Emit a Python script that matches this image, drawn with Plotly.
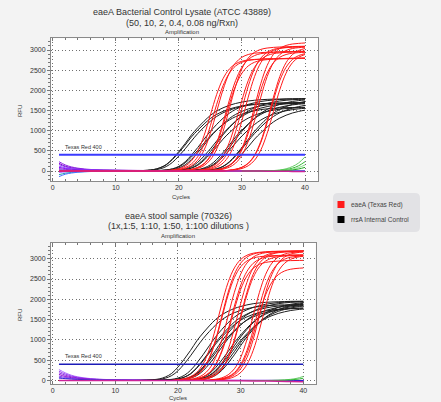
import plotly.graph_objects as go

W, H = 441, 402

# ---------------- data ----------------
x_ticks = [0, 10, 20, 30, 40]
y_ticks = [0, 500, 1000, 1500, 2000, 2500, 3000]
threshold = 400
threshold_label = "Texas Red 400"

top_title = ["eaeA Bacterial Control Lysate (ATCC 43889)", "(50, 10, 2, 0.4, 0.08 ng/Rxn)"]
bot_title = ["eaeA stool sample (70326)", "(1x,1:5, 1:10, 1:50, 1:100 dilutions )"]
legend_labels = ["eaeA (Texas Red)", "rrsA Internal Control"]

# cycles at which the baseline (purple) traces were read
cycles_sparse = [1, 2, 3, 4, 5, 6, 7, 8, 10, 12, 15, 20, 25, 30, 35, 40]
green_cycles = [30, 34, 35, 36, 37, 38, 39, 40]
tail_cycles = [1, 10, 20, 25, 30, 33, 36, 38, 40]

# amplification curves: first cycle of listed values (earlier cycles are baseline 0)
top_red_starts = [18, 19, 19, 21, 21, 21, 23, 23, 24, 25, 26, 25, 28, 28, 28]
top_red_values = [
    [13, 27, 58, 122, 252, 492, 881, 1390, 1899, 2288, 2528, 2658, 2722, 2752, 2766, 2774, 2780, 2784, 2788, 2791, 2795, 2798, 2800],
    [19, 40, 85, 176, 356, 667, 1126, 1654, 2113, 2424, 2605, 2697, 2741, 2761, 2772, 2780, 2784, 2787, 2790, 2793, 2796, 2799],
    [14, 29, 62, 130, 267, 522, 935, 1475, 2015, 2428, 2683, 2820, 2888, 2921, 2935, 2944, 2950, 2955, 2959, 2963, 2966, 2970],
    [20, 42, 90, 187, 378, 708, 1195, 1755, 2242, 2572, 2764, 2862, 2909, 2929, 2941, 2950, 2954, 2958, 2962, 2965],
    [14, 30, 64, 136, 279, 545, 976, 1540, 2104, 2535, 2801, 2944, 3015, 3049, 3065, 3074, 3080, 3085, 3090, 3094],
    [19, 40, 85, 176, 356, 667, 1126, 1654, 2113, 2424, 2605, 2697, 2741, 2761, 2772, 2780, 2783, 2786, 2789, 2792],
    [14, 30, 64, 136, 279, 545, 976, 1540, 2104, 2535, 2801, 2944, 3015, 3049, 3065, 3074, 3080, 3084],
    [20, 42, 90, 187, 378, 708, 1195, 1755, 2242, 2572, 2764, 2862, 2909, 2929, 2941, 2950, 2954, 2958],
    [21, 44, 94, 195, 394, 739, 1247, 1833, 2341, 2686, 2886, 2988, 3037, 3058, 3071, 3080, 3084],
    [14, 29, 62, 130, 267, 522, 935, 1475, 2015, 2428, 2683, 2820, 2888, 2921, 2935, 2944],
    [21, 44, 94, 195, 394, 739, 1247, 1833, 2341, 2686, 2886, 2988, 3037, 3058, 3071],
    [15, 31, 66, 140, 288, 563, 1008, 1590, 2172, 2617, 2892, 3040, 3113, 3148, 3164, 3174],
    [21, 44, 94, 195, 394, 739, 1247, 1833, 2341, 2686, 2886, 2988, 3037],
    [14, 29, 62, 130, 267, 522, 935, 1475, 2015, 2428, 2683, 2820, 2888],
    [20, 42, 90, 187, 378, 708, 1195, 1755, 2242, 2572, 2764, 2862, 2909],
]

top_black_starts = [13, 14, 13, 16, 16, 16, 18, 18, 18, 20, 21, 21, 23, 23, 23]
top_black_values = [
    [4, 9, 18, 36, 81, 161, 304, 483, 680, 895, 1074, 1235, 1378, 1486, 1566, 1629, 1674, 1709, 1736, 1754, 1767, 1776, 1781, 1785, 1790, 1792, 1794, 1796],
    [5, 12, 25, 52, 110, 216, 372, 549, 744, 930, 1090, 1234, 1352, 1442, 1509, 1560, 1597, 1627, 1648, 1663, 1673, 1680, 1683, 1687, 1690, 1692, 1694],
    [3, 8, 17, 34, 76, 152, 287, 456, 642, 845, 1014, 1166, 1301, 1403, 1479, 1538, 1580, 1614, 1639, 1656, 1668, 1676, 1682, 1685, 1690, 1692, 1694, 1696],
    [5, 11, 24, 49, 103, 202, 348, 514, 695, 869, 1019, 1153, 1264, 1348, 1411, 1458, 1493, 1522, 1541, 1555, 1564, 1571, 1574, 1577, 1580],
    [5, 13, 27, 55, 116, 229, 394, 582, 788, 985, 1155, 1307, 1432, 1527, 1598, 1652, 1692, 1724, 1745, 1761, 1772, 1779, 1783, 1786, 1790],
    [3, 8, 17, 34, 76, 152, 287, 456, 642, 845, 1014, 1166, 1301, 1403, 1479, 1538, 1580, 1614, 1639, 1656, 1668, 1676, 1682, 1685, 1690],
    [4, 9, 18, 36, 81, 161, 304, 483, 680, 895, 1074, 1235, 1378, 1486, 1566, 1629, 1674, 1709, 1736, 1754, 1767, 1776, 1781],
    [5, 12, 25, 52, 110, 216, 372, 549, 744, 930, 1090, 1234, 1352, 1442, 1509, 1560, 1597, 1627, 1648, 1663, 1673, 1680, 1683],
    [3, 8, 16, 32, 71, 142, 269, 427, 600, 790, 948, 1090, 1217, 1311, 1383, 1438, 1477, 1509, 1533, 1548, 1559, 1567, 1572],
    [3, 8, 17, 34, 76, 152, 287, 456, 642, 845, 1014, 1166, 1301, 1403, 1479, 1538, 1580, 1614, 1639, 1656, 1668],
    [5, 13, 27, 55, 116, 229, 394, 582, 788, 985, 1155, 1307, 1432, 1527, 1598, 1652, 1692, 1724, 1745, 1761],
    [5, 11, 24, 49, 103, 202, 348, 514, 695, 869, 1019, 1153, 1264, 1348, 1411, 1458, 1493, 1522, 1541, 1555],
    [5, 12, 25, 52, 110, 216, 372, 549, 744, 930, 1090, 1234, 1352, 1442, 1509, 1560, 1597, 1627],
    [3, 8, 16, 32, 71, 142, 269, 427, 600, 790, 948, 1090, 1217, 1311, 1383, 1438, 1477, 1509],
    [5, 13, 27, 55, 116, 229, 394, 582, 788, 985, 1155, 1307, 1432, 1527, 1598, 1652, 1692, 1724],
]

bot_red_starts = [20, 20, 20, 21, 22, 22, 23, 23, 23, 25, 26, 26, 26, 27]
bot_red_values = [
    [21, 45, 97, 201, 407, 763, 1288, 1892, 2417, 2773, 2980, 3085, 3135, 3158, 3170, 3180, 3182, 3184, 3186, 3188, 3190],
    [14, 30, 64, 136, 279, 545, 976, 1540, 2104, 2535, 2801, 2944, 3015, 3049, 3065, 3074, 3080, 3084, 3088, 3092, 3095],
    [15, 31, 66, 140, 288, 563, 1008, 1590, 2172, 2617, 2892, 3040, 3113, 3148, 3164, 3174, 3180, 3183, 3186, 3189, 3192],
    [15, 31, 66, 140, 288, 563, 1008, 1590, 2172, 2617, 2892, 3040, 3113, 3148, 3164, 3174, 3180, 3183, 3186, 3189],
    [21, 44, 94, 195, 394, 739, 1247, 1833, 2341, 2686, 2886, 2988, 3037, 3058, 3071, 3080, 3083, 3086, 3089],
    [20, 42, 90, 187, 378, 708, 1195, 1755, 2242, 2572, 2764, 2862, 2909, 2929, 2941, 2950, 2953, 2956, 2959],
    [21, 45, 97, 201, 407, 763, 1288, 1892, 2417, 2773, 2980, 3085, 3135, 3158, 3170, 3180, 3182, 3184],
    [14, 30, 64, 136, 279, 545, 976, 1540, 2104, 2535, 2801, 2944, 3015, 3049, 3065, 3074, 3080, 3083],
    [15, 31, 66, 140, 288, 563, 1008, 1590, 2172, 2617, 2892, 3040, 3113, 3148, 3164, 3174, 3180, 3182],
    [15, 31, 66, 140, 288, 563, 1008, 1590, 2172, 2617, 2892, 3040, 3113, 3148, 3164, 3174],
    [19, 40, 85, 176, 356, 667, 1126, 1654, 2113, 2424, 2605, 2697, 2741, 2761, 2772],
    [21, 44, 94, 195, 394, 739, 1247, 1833, 2341, 2686, 2886, 2988, 3037, 3058, 3071],
    [15, 31, 66, 140, 288, 563, 1008, 1590, 2172, 2617, 2892, 3040, 3113, 3148, 3164],
    [21, 44, 94, 195, 394, 739, 1247, 1833, 2341, 2686, 2886, 2988, 3037, 3058],
]

bot_black_starts = [14, 15, 17, 17, 17, 18, 19, 18, 20, 21, 21, 22, 21]
bot_black_values = [
    [4, 10, 20, 39, 88, 176, 332, 527, 741, 975, 1170, 1346, 1502, 1619, 1706, 1775, 1823, 1862, 1892, 1911, 1925, 1934, 1940, 1944, 1950, 1952, 1954],
    [6, 13, 28, 58, 122, 239, 411, 608, 823, 1029, 1206, 1365, 1496, 1595, 1670, 1726, 1767, 1801, 1823, 1840, 1851, 1859, 1863, 1866, 1870, 1872],
    [6, 14, 29, 60, 127, 250, 429, 634, 858, 1073, 1258, 1424, 1560, 1663, 1741, 1800, 1843, 1878, 1901, 1919, 1931, 1938, 1942, 1946],
    [4, 9, 19, 37, 84, 168, 318, 505, 711, 935, 1122, 1290, 1440, 1552, 1636, 1702, 1748, 1786, 1814, 1833, 1846, 1855, 1861, 1864],
    [4, 9, 18, 36, 81, 161, 304, 483, 680, 895, 1074, 1235, 1378, 1486, 1566, 1629, 1674, 1709, 1736, 1754, 1767, 1776, 1781, 1785],
    [4, 10, 20, 39, 88, 176, 332, 527, 741, 975, 1170, 1346, 1502, 1619, 1706, 1775, 1823, 1862, 1892, 1911, 1925, 1934, 1940],
    [6, 13, 28, 58, 122, 239, 411, 608, 823, 1029, 1206, 1365, 1496, 1595, 1670, 1726, 1767, 1801, 1823, 1840, 1851, 1859],
    [4, 9, 18, 36, 81, 161, 304, 483, 680, 895, 1074, 1235, 1378, 1486, 1566, 1629, 1674, 1709, 1736, 1754, 1767, 1776, 1781],
    [4, 9, 19, 37, 84, 168, 318, 505, 711, 935, 1122, 1290, 1440, 1552, 1636, 1702, 1748, 1786, 1814, 1833, 1846],
    [6, 14, 29, 60, 127, 250, 429, 634, 858, 1073, 1258, 1424, 1560, 1663, 1741, 1800, 1843, 1878, 1901, 1919],
    [5, 13, 27, 55, 116, 229, 394, 582, 788, 985, 1155, 1307, 1432, 1527, 1598, 1652, 1692, 1724, 1745, 1761],
    [6, 14, 29, 60, 127, 250, 429, 634, 858, 1073, 1258, 1424, 1560, 1663, 1741, 1800, 1843, 1878, 1901],
    [4, 9, 19, 37, 84, 168, 318, 505, 711, 935, 1122, 1290, 1440, 1552, 1636, 1702, 1748, 1786, 1814, 1833],
]

# baseline traces of the other channels (at cycles_sparse)
top_purple_values = [
    [230, 150, 100, 70, 50, 38, 30, 25, 20, 15, 12, 10, 8, 8, 6, 5],
    [190, 120, 80, 55, 40, 32, 26, 22, 18, 15, 12, 10, 8, 6, 5, 5],
    [160, 105, 70, 50, 38, 30, 24, 20, 16, 12, 10, 8, 6, 5, 4, 4],
    [120, 80, 55, 40, 30, 25, 20, 16, 13, 10, 8, 6, 5, 4, 3, 3],
    [90, 60, 42, 30, 24, 19, 15, 12, 10, 8, 6, 5, 4, 3, 2, 2],
    [60, 40, 28, 20, 15, 12, 10, 8, 6, 5, 4, 3, 2, 2, 1, 1],
    [30, 20, 15, 12, 10, 8, 7, 6, 5, 4, 3, 3, 2, 2, 1, 1],
    [-40, -25, -15, -10, -7, -5, -3, -2, -1, 0, 0, 0, 0, 0, 0, 0],
    [-90, -55, -35, -22, -15, -10, -7, -5, -3, -2, -1, 0, 0, 0, 0, 0],
    [-140, -80, -50, -30, -20, -13, -9, -6, -4, -2, -1, 0, 0, 0, 0, 0],
]
top_purple_colors = ["#8a2be2", "#9400d3", "#7b3fe4", "#a050ff", "#8000ff", "#9932cc",
                     "#6a2bd8", "#b080ff", "#20a0b0", "#4a70ff"]
bot_purple_values = [
    [270, 190, 130, 90, 65, 48, 36, 28, 18, 12, 8, 5, 4, 3, 2, 2],
    [230, 160, 110, 78, 56, 42, 32, 25, 16, 11, 7, 5, 3, 2, 2, 1],
    [190, 130, 90, 64, 46, 35, 27, 21, 14, 9, 6, 4, 3, 2, 1, 1],
    [150, 100, 70, 50, 36, 27, 21, 17, 11, 8, 5, 3, 2, 1, 1, 1],
    [110, 75, 52, 37, 27, 20, 16, 13, 9, 6, 4, 3, 2, 1, 1, 0],
    [80, 55, 40, 28, 20, 15, 12, 10, 7, 5, 3, 2, 1, 1, 0, 0],
    [60, 45, 35, 28, 22, 18, 15, 12, 9, 7, 5, 3, 2, 1, 1, 0],
]
bot_purple_colors = ["#b070ff", "#9a40f0", "#8a2be2", "#9400d3", "#7b3fe4", "#a050ff", "#2a2ad0"]

top_green_values = [
    [0, 3, 10, 25, 55, 110, 200, 350],
    [0, 2, 6, 15, 35, 70, 130, 230],
    [0, 1, 4, 10, 22, 45, 85, 150],
    [0, 1, 2, 5, 12, 25, 50, 90],
]
bot_green_values = [
    [0, 1, 3, 7, 15, 30, 55, 100],
    [0, 0, 2, 4, 8, 16, 30, 55],
]
green_colors = ["#66cc66", "#33bb33", "#88dd88", "#22aa22"]
top_tail_values = [0, 0, 0, 0, 0, -3, -6, -10, -15]
bot_tail_values = [0, 0, 0, -3, -8, -12, -18, -25, -30]

# ---------------- figure ----------------
fig = go.Figure()
FONT = "Liberation Sans, Arial, sans-serif"
BG = "#f3f3f3"


def px_x(px):
    return px / W


def px_y(py):
    return 1 - py / H


def add_line(xa, ya, xs, ys, color, width=1.0, shape="spline"):
    fig.add_trace(go.Scatter(x=xs, y=ys, mode="lines",
                             line=dict(color=color, width=width, shape=shape),
                             xaxis=xa, yaxis=ya, showlegend=False, hoverinfo="skip"))


def add_amp(xa, ya, start, vals, color):
    xs = list(range(1, start)) + list(range(start, start + len(vals)))
    ys = [0] * (start - 1) + list(vals)
    add_line(xa, ya, xs, ys, color, 1.0)


panels = [
    ("x", "y", top_purple_values, top_purple_colors, top_black_starts, top_black_values,
     top_red_starts, top_red_values, top_green_values, top_tail_values, "#3b3bff", 2.0),
    ("x2", "y2", bot_purple_values, bot_purple_colors, bot_black_starts, bot_black_values,
     bot_red_starts, bot_red_values, bot_green_values, bot_tail_values, "#1c1cb8", 1.6),
]

for (xa, ya, pv, pc, bs, bv, rs, rv, gv, tv, thr_col, thr_w) in panels:
    for vals, col in zip(pv, pc):
        add_line(xa, ya, cycles_sparse, vals, col, 1.0)
    for s, vals in zip(bs, bv):
        add_amp(xa, ya, s, vals, "#1e1e1e")
    for s, vals in zip(rs, rv):
        add_amp(xa, ya, s, vals, "#ff1a1a")
    for vals, col in zip(gv, green_colors):
        add_line(xa, ya, green_cycles, vals, col, 1.0)
    add_line(xa, ya, tail_cycles, tv, "#cc2299", 1.5)
    add_line(xa, ya, [1, 40], [threshold, threshold], thr_col, thr_w, "linear")

GRID_DASH = "1px,2.5px"


def xaxis_cfg(domain, rng, anchor):
    return dict(domain=domain, range=rng, anchor=anchor, tickvals=x_ticks,
                ticks="inside", ticklen=3, tickcolor="#777",
                minor=dict(dtick=2, tick0=0, ticks="inside", ticklen=2, tickcolor="#777", showgrid=False),
                showgrid=True, gridcolor="#707070", griddash=GRID_DASH, gridwidth=1,
                showline=True, linecolor="#8a8a8a", linewidth=1, mirror="ticks",
                zeroline=False, tickfont=dict(size=7, color="#333", family=FONT), fixedrange=True)


def yaxis_cfg(domain, rng, anchor):
    return dict(domain=domain, range=rng, anchor=anchor, tickvals=y_ticks,
                ticks="outside", ticklen=3, tickcolor="#777",
                minor=dict(dtick=100, tick0=0, ticks="outside", ticklen=2, tickcolor="#777", showgrid=False),
                showgrid=True, gridcolor="#707070", griddash=GRID_DASH, gridwidth=1,
                showline=True, linecolor="#8a8a8a", linewidth=1, mirror=True,
                zeroline=False, tickfont=dict(size=7, color="#333", family=FONT), fixedrange=True)


fig.update_layout(
    width=W, height=H, margin=dict(l=0, r=0, t=0, b=0),
    paper_bgcolor=BG, plot_bgcolor="#ffffff",
    showlegend=False, font=dict(family=FONT, color="#333"),
    xaxis=xaxis_cfg([px_x(51), px_x(318)], [-0.27, 42.06], "y"),
    yaxis=yaxis_cfg([px_y(181), px_y(38.3)], [-248, 3290], "x"),
    xaxis2=xaxis_cfg([px_x(51), px_x(315.7)], [-0.27, 41.98], "y2"),
    yaxis2=yaxis_cfg([px_y(384), px_y(242.7)], [-86, 3394], "x2"),
)

ann = []


def text(px, py, s, size, angle=0, anchor="center", color="#333"):
    ann.append(dict(x=px_x(px), y=px_y(py), xref="paper", yref="paper", text=s, showarrow=False,
                    xanchor=anchor, yanchor="middle", textangle=angle, borderpad=0,
                    font=dict(size=size, color=color, family=FONT)))


text(181.7, 12, top_title[0], 9)
text(181.7, 23, top_title[1], 9)
text(181.7, 32, "Amplification", 6)
text(181, 197, "Cycles", 6)
text(20, 111, "RFU", 6, angle=-90)

text(178, 216, bot_title[0], 9)
text(178, 226, bot_title[1], 9)
text(178, 235.7, "Amplification", 6)
text(178, 397.5, "Cycles", 6)
text(20, 315, "RFU", 6, angle=-90)

for xr, yr in (("x", "y"), ("x2", "y2")):
    ann.append(dict(x=1.6, y=threshold, xref=xr, yref=yr, text=threshold_label, showarrow=False,
                    xanchor="left", yanchor="bottom", yshift=3,
                    font=dict(size=5.5, color="#333", family=FONT)))

# legend (drawn manually as a rounded box)
x0, x1, y0, y1 = px_x(333), px_x(420), px_y(232), px_y(193)
rx, ry = 5 / W, 5 / H
path = (f"M {x0+rx},{y0} L {x1-rx},{y0} Q {x1},{y0} {x1},{y0+ry} L {x1},{y1-ry} "
        f"Q {x1},{y1} {x1-rx},{y1} L {x0+rx},{y1} Q {x0},{y1} {x0},{y1-ry} "
        f"L {x0},{y0+ry} Q {x0},{y0} {x0+rx},{y0} Z")
shapes = [dict(type="path", path=path, xref="paper", yref="paper",
               fillcolor="#e2e2e5", line=dict(width=0), layer="above")]
for i, (lab, col) in enumerate(zip(legend_labels, ["#ff1a1a", "#000000"])):
    cy = 204.5 + 15 * i
    shapes.append(dict(type="rect", xref="paper", yref="paper",
                       x0=px_x(337.5), x1=px_x(344.5), y0=px_y(cy + 3.5), y1=px_y(cy - 3.5),
                       fillcolor=col, line=dict(width=0), layer="above"))
    text(349.5, cy, lab, 6.5, anchor="left", color="#444")

fig.update_layout(annotations=ann, shapes=shapes)
# remove the browser's default 8px page margin so the figure sits at the window's corner
fig.write_html("out.html",
               config={"displayModeBar": False},
               post_script="document.body.style.margin='0';document.body.style.background='%s';" % BG)
